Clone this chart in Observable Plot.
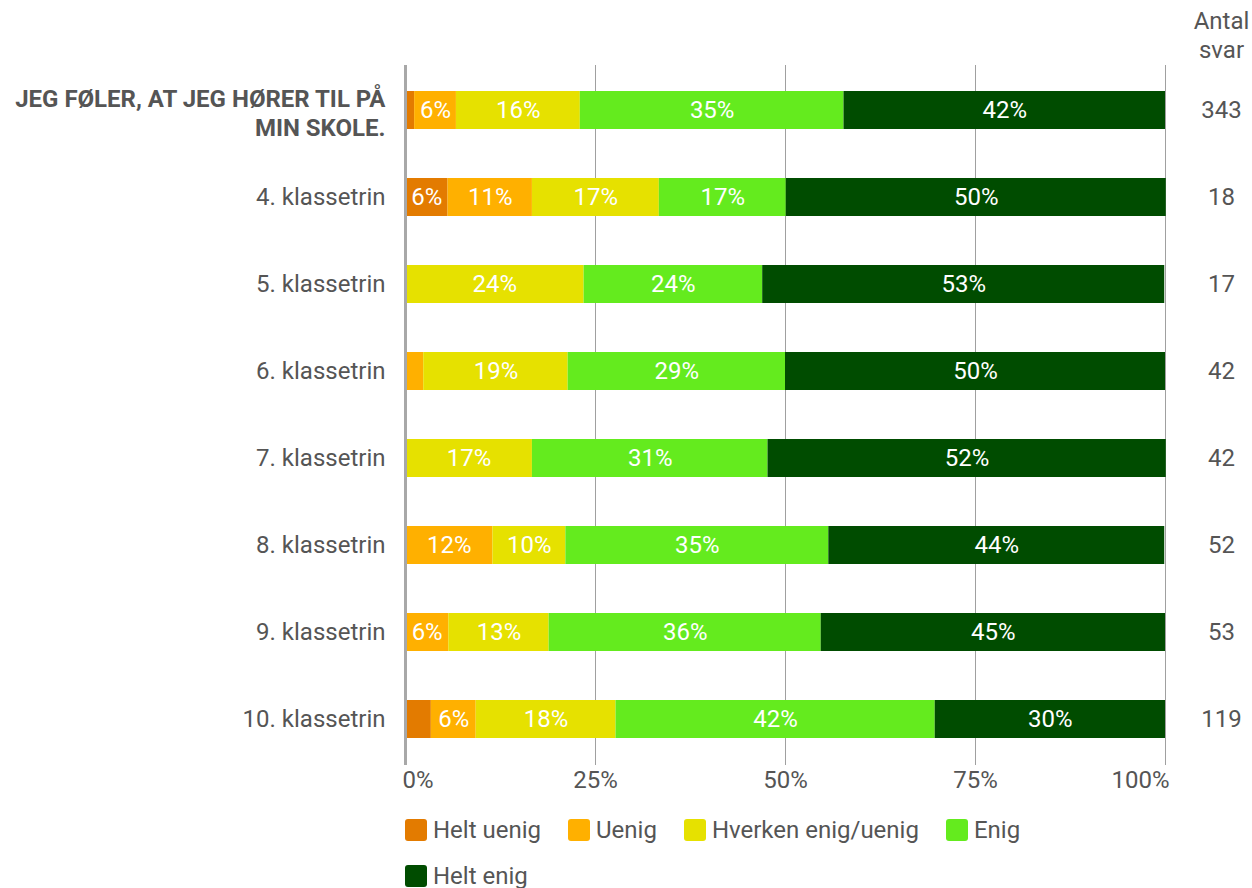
<!DOCTYPE html>
<html><head><meta charset="utf-8">
<script src="https://cdn.jsdelivr.net/npm/d3@7"></script>
<script src="https://cdn.jsdelivr.net/npm/@observablehq/plot@0.6"></script>
<style>
body{margin:0;background:#fff;font-family:Roboto,sans-serif;}
#wrap{width:1252px;}
#legend{display:flex;flex-wrap:wrap;width:760px;margin-left:405px;margin-top:13px;column-gap:27px;row-gap:22px;}
.item{display:flex;align-items:center;height:24px;font-size:24px;color:#555;}
.sw{width:22px;height:22px;border-radius:3px;margin-right:6px;}
</style>
</head><body>
<div id="wrap"><div id="chart"></div><div id="legend"></div></div>
<script>
const categories = ["JEG FØLER, AT JEG HØRER TIL PÅ\nMIN SKOLE.", "4. klassetrin", "5. klassetrin", "6. klassetrin", "7. klassetrin", "8. klassetrin", "9. klassetrin", "10. klassetrin"];
const responses = ["Helt uenig", "Uenig", "Hverken enig/uenig", "Enig", "Helt enig"];
const colors = ["#e37b00", "#ffb000", "#e6e100", "#64eb1e", "#004c00"];
const heltUenig = [1.2, 5.6, 0, 0, 0, 0, 0, 3.4];
const uenig     = [5.5, 11.1, 0, 2.4, 0, 11.5, 5.7, 5.9];
const hverken   = [16.3, 16.7, 23.5, 19.0, 16.7, 9.6, 13.2, 18.4];
const enig      = [34.7, 16.7, 23.5, 28.6, 31.0, 34.6, 35.8, 42.0];
const heltEnig  = [42.3, 50.0, 52.9, 50.0, 52.4, 44.2, 45.3, 30.3];
const antal = [343, 18, 17, 42, 42, 52, 53, 119];
const xTicks = [0, 25, 50, 75, 100];

const series = [heltUenig, uenig, hverken, enig, heltEnig];
const data = [];
categories.forEach((c, i) => series.forEach((s, j) => data.push({cat: c, resp: responses[j], value: s[i]})));
const counts = categories.map((c, i) => ({cat: c, n: antal[i]}));

const chart = Plot.plot({
  width: 1252, height: 805,
  marginLeft: 405, marginRight: 87, marginTop: 65, marginBottom: 40,
  style: {fontFamily: "Roboto, sans-serif", fontSize: "24px", background: "#fff"},
  x: {domain: [0, 100], axis: null},
  y: {domain: categories, axis: null, paddingInner: 0.56, paddingOuter: 0.3},
  color: {domain: responses, range: colors},
  marks: [
    Plot.ruleX(xTicks.slice(1), {stroke: "#a0a0a0", strokeWidth: 1}),
    Plot.barX(data, Plot.stackX({x: "value", y: "cat", fill: "resp", order: responses})),
    Plot.text(data, Plot.stackX({x: "value", y: "cat", z: "resp", order: responses,
      text: d => d.value >= 4 ? Math.round(d.value) + "%" : "", fill: "white", fontSize: 24})),
    Plot.ruleX([0], {stroke: "#a8a8a8", strokeWidth: 3}),
    Plot.text(categories.slice(1), {x: 0, y: d => d, dx: -20, textAnchor: "end", fill: "#555", fontSize: 24}),
    Plot.text(categories.slice(0, 1), {x: 0, y: d => d, dx: -20, dy: 2, textAnchor: "end", fill: "#555",
      fontSize: 24, fontWeight: "bold", lineHeight: 1.2}),
    Plot.text(counts, {x: 100, y: "cat", text: d => String(d.n), dx: 56, fill: "#555", fontSize: 24}),
    Plot.text(["Antal\nsvar"], {x: 100, frameAnchor: "top", dx: 56, dy: -57, lineAnchor: "top", lineHeight: 1.2, fill: "#555", fontSize: 24}),
    Plot.text(xTicks.slice(1, -1), {x: d => d, frameAnchor: "bottom", dy: 22, text: d => d + "%", fill: "#555", fontSize: 24}),
    Plot.text(xTicks.slice(0, 1), {x: d => d, frameAnchor: "bottom", dy: 22, dx: -3, textAnchor: "start", text: d => d + "%", fill: "#555", fontSize: 24}),
    Plot.text(xTicks.slice(-1), {x: d => d, frameAnchor: "bottom", dy: 22, dx: 4, textAnchor: "end", text: d => d + "%", fill: "#555", fontSize: 24})
  ]
});
document.getElementById("chart").appendChild(chart);

const legend = document.getElementById("legend");
responses.forEach((r, i) => {
  const it = document.createElement("div");
  it.className = "item";
  it.innerHTML = `<span class="sw" style="background:${colors[i]}"></span><span>${r}</span>`;
  legend.appendChild(it);
});
</script>
</body></html>
